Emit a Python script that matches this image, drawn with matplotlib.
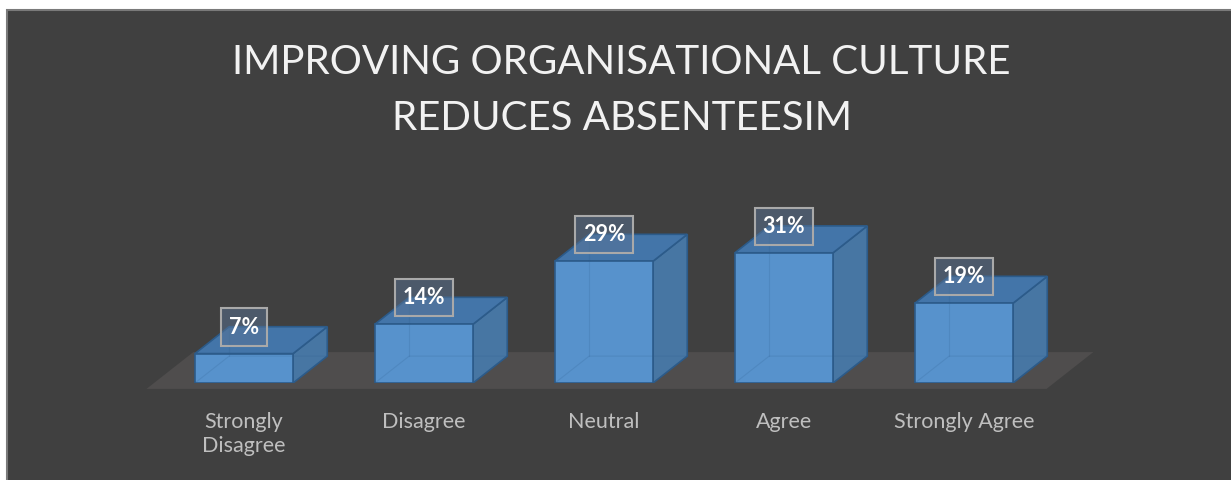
import matplotlib
matplotlib.use("Agg")
import matplotlib.pyplot as plt
from matplotlib.patches import Polygon, Rectangle

# Survey responses
categories = ["Strongly\nDisagree", "Disagree", "Neutral", "Agree", "Strongly Agree"]
values = [7, 14, 29, 31, 19]
value_labels = ["7%", "14%", "29%", "31%", "19%"]
title = "IMPROVING ORGANISATIONAL CULTURE\nREDUCES ABSENTEESIM"

FONT = "Lato"
BG = "#404040"
FRONT = "#5792cc"
SIDE = "#4776a3"
TOP = "#4375a9"
EDGE = "#2c5b8a"
FLOOR = "#4f4d4d"

W, H, DPI = 1231, 480, 100
fig = plt.figure(figsize=(W / DPI, H / DPI), dpi=DPI)
fig.patch.set_facecolor("white")

# dark chart area with thin light border
fig.patches.append(Rectangle((7 / W, -0.01), 1.02, (H - 10) / H + 0.01,
                             transform=fig.transFigure, facecolor=BG,
                             edgecolor="#7a7a7a", linewidth=1.5, zorder=-5))

ax = fig.add_axes([64 / W, 97 / H, 1080 / W, 252 / H])
ax.set_zorder(2)
ax.set_xlim(-1, 5)
ax.set_ylim(0, 60)
ax.set_facecolor("none")
for s in ax.spines.values():
    s.set_visible(False)
ax.set_yticks([])

bar_w = 0.545          # width of front face (category units)
dx, dy = 0.19, 6.4     # oblique depth offset (x units, y units)

# floor slab
f0, f1 = -0.22, 1.15   # floor front/back as fraction of bar depth
n = len(values)
floor = Polygon([(-0.5 + f0 * dx, f0 * dy), (n - 0.5 + f0 * dx, f0 * dy),
                 (n - 0.5 + f1 * dx, f1 * dy), (-0.5 + f1 * dx, f1 * dy)],
                closed=True, facecolor=FLOOR, edgecolor="none", zorder=1,
                clip_on=False)
ax.add_patch(floor)

for i, v in enumerate(values):
    l, r = i - bar_w / 2, i + bar_w / 2
    side = Polygon([(r, 0), (r + dx, dy), (r + dx, v + dy), (r, v)], closed=True,
                   facecolor=SIDE, edgecolor=EDGE, lw=1.2, zorder=2)
    top = Polygon([(l, v), (r, v), (r + dx, v + dy), (l + dx, v + dy)], closed=True,
                  facecolor=TOP, edgecolor=EDGE, lw=1.2, zorder=2)
    front = Polygon([(l, 0), (r, 0), (r, v), (l, v)], closed=True,
                    facecolor=FRONT, edgecolor=EDGE, lw=1.2, zorder=2)
    for p in (side, top, front):
        ax.add_patch(p)
    # hidden back edges seen faintly through the translucent bar
    ax.plot([l + dx, l + dx], [dy, v + dy], color=EDGE, lw=0.8, alpha=0.18, zorder=3)
    ax.plot([l, l + dx, r + dx], [0, dy, dy], color=EDGE, lw=0.8, alpha=0.18, zorder=3)
    ax.annotate(value_labels[i], xy=(i, v), xytext=(0, 16), textcoords="offset pixels",
                ha="center", va="bottom", fontsize=15.5, fontweight="bold",
                color="white", family=FONT, zorder=5,
                bbox=dict(boxstyle="square,pad=0.38", facecolor=(0.35, 0.45, 0.58, 0.5),
                          edgecolor="#a9a9a9", linewidth=1.5))

ax.set_xticks(range(n))
ax.set_xticklabels(categories, fontsize=15.5, color="#bfbfbf", family=FONT,
                   linespacing=1.25)
ax.tick_params(axis="x", length=0, pad=21)

fig.text(0.505, (H - 44) / H, title, ha="center", va="top", fontsize=29,
         color="#f2f2f2", family=FONT, linespacing=1.65)

fig.savefig("out.png", dpi=DPI, facecolor=fig.get_facecolor())
